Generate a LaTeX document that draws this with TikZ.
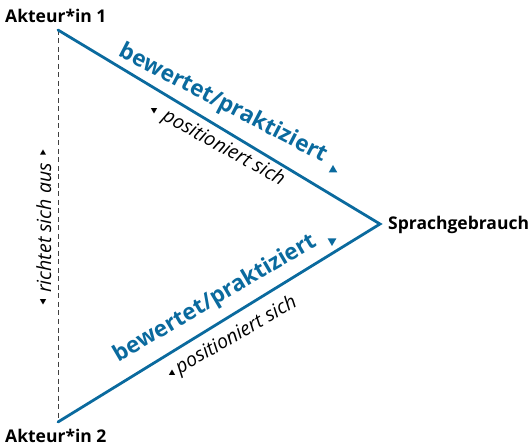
\documentclass[tikz,border=0pt]{standalone}
\usepackage{fontspec}
\setmainfont{Open Sans}
\usetikzlibrary{shapes.geometric}
\definecolor{lineblue}{RGB}{10,106,158}
\begin{document}
\begin{tikzpicture}[x=1pt,y=-1pt,
  vertexlabel/.style={font=\bfseries\fontsize{17.5}{21}\selectfont, inner sep=0pt, anchor=base west},
  relbold/.style={font=\bfseries\fontsize{22.5}{27}\selectfont, text=lineblue, inner sep=0pt, anchor=base},
  relitalic/.style={font=\itshape\fontsize{19.5}{23}\selectfont, inner sep=0pt, anchor=base},
  mainline/.style={lineblue, line width=2.8pt},
  sideline/.style={black!75, dashed, line width=0.7pt, dash pattern=on 5pt off 3.5pt},
  tri/.style={regular polygon, regular polygon sides=3, fill, inner sep=0pt, minimum size=#1},
  tri/.default=8pt,
  tridown/.style={tri=#1, shape border rotate=180},
  tridown/.default=8pt]
\useasboundingbox (0,0) rectangle (530,446);

% corners of the triangle
\coordinate (A1) at (58,30);
\coordinate (A2) at (58,422);
\coordinate (SG) at (380,224);

% vertex labels
\node[vertexlabel] (a1) at (5,22.5) {Akteur*in 1};
\node[vertexlabel] (a2) at (5,442) {Akteur*in 2};
\node[vertexlabel] (sg) at (388,230) {Sprachgebrauch};

% edges
\draw[sideline] (A1) -- (A2);
\draw[mainline, line cap=round] (A1) -- (SG) -- (A2);

% upper edge labels
\node[relbold, rotate=-27.5] (b1) at (220,109) {bewertet/praktiziert};
\node[tri=10pt, fill=lineblue] (t1) at (333,170) {};
\node[relitalic, rotate=-29] (p1) at (221,153) {positioniert sich};
\node[tridown=7pt, fill=black] (t2) at (154,110) {};

% lower edge labels
\node[relbold, rotate=30.5] (b2) at (218,304) {bewertet/praktiziert};
\node[tridown=10pt, fill=lineblue] (t3) at (332,241) {};
\node[relitalic, rotate=30] (p2) at (239,340) {positioniert sich};
\node[tri=7pt, fill=black] (t4) at (172,373) {};

% left edge label
\node[relitalic, rotate=90] (r) at (51,228) {richtet sich aus};
\node[tri=7pt, fill=black] (t5) at (43,153) {};
\node[tridown=7pt, fill=black] (t6) at (43,301) {};
\end{tikzpicture}
\end{document}
